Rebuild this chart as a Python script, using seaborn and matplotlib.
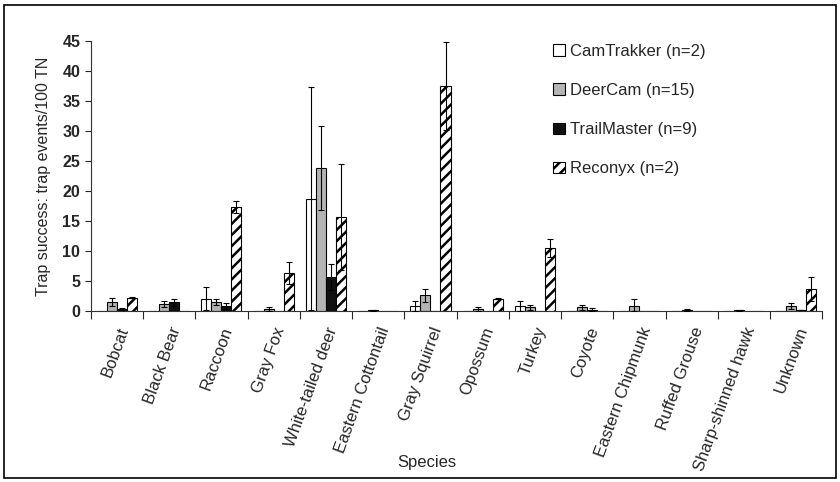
import numpy as np
import pandas as pd
import matplotlib
matplotlib.use("Agg")
import matplotlib.pyplot as plt
import seaborn as sns
from matplotlib.patches import Rectangle, Patch

species = ["Bobcat", "Black Bear", "Raccoon", "Gray Fox", "White-tailed deer",
           "Eastern Cottontail", "Gray Squirrel", "Opossum", "Turkey", "Coyote",
           "Eastern Chipmunk", "Ruffed Grouse", "Sharp-shinned hawk", "Unknown"]
cameras = ["CamTrakker (n=2)", "DeerCam (n=15)", "TrailMaster (n=9)", "Reconyx (n=2)"]

camtrakker = [0, 0, 2.0, 0, 18.7, 0, 0.8, 0, 0.8, 0, 0, 0, 0, 0]
camtrakker_err = [0, 0, 1.9, 0, 18.6, 0, 0.9, 0, 0.8, 0, 0, 0, 0, 0]
deercam = [1.5, 1.2, 1.5, 0.3, 23.9, 0.1, 2.6, 0.3, 0.6, 0.6, 0.8, 0.15, 0.08, 0.8]
deercam_err = [0.7, 0.5, 0.5, 0.3, 7.0, 0.05, 1.1, 0.3, 0.4, 0.4, 1.2, 0.1, 0.05, 0.5]
trailmaster = [0.3, 1.4, 0.8, 0, 5.7, 0, 0, 0, 0, 0.2, 0, 0, 0, 0.15]
trailmaster_err = [0.1, 0.6, 0.5, 0, 2.2, 0, 0, 0, 0, 0.2, 0, 0, 0, 0.05]
reconyx = [2.2, 0, 17.4, 6.3, 15.7, 0, 37.5, 2.0, 10.5, 0, 0, 0, 0, 3.6]
reconyx_err = [0.1, 0, 1.0, 1.8, 8.8, 0, 7.3, 0.1, 1.5, 0, 0, 0, 0, 2.0]

values = [camtrakker, deercam, trailmaster, reconyx]
errors = [camtrakker_err, deercam_err, trailmaster_err, reconyx_err]

rows = []
for cam, vals in zip(cameras, values):
    for sp, v in zip(species, vals):
        rows.append({"Species": sp, "Camera": cam, "Value": v})
df = pd.DataFrame(rows)

sns.set_style("ticks")
plt.rcParams["font.family"] = ["Liberation Sans", "DejaVu Sans"]
plt.rcParams["hatch.linewidth"] = 1.8

fig = plt.figure(figsize=(8.4, 4.82), dpi=100)
ax = fig.add_axes([0.108, 0.355, 0.871, 0.56])

facecolors = ["white", "#b4b4b4", "#111111", "white"]
hatches = [None, None, None, "///"]
palette = dict(zip(cameras, facecolors))

sns.barplot(data=df, x="Species", y="Value", hue="Camera", order=species,
            hue_order=cameras, palette=palette, width=0.77, gap=0,
            edgecolor="black", linewidth=0.8, errorbar=None, legend=False, ax=ax)

# style bars and draw error bars
bar_containers = list(ax.containers)
for ci, cont in enumerate(bar_containers):
    xs, hs = [], []
    for bar, v in zip(cont.patches, values[ci]):
        bar.set_facecolor(facecolors[ci])
        bar.set_edgecolor("black")
        if hatches[ci]:
            bar.set_hatch(hatches[ci])
        xs.append(bar.get_x() + bar.get_width() / 2)
        hs.append(v)
    errs = np.array(errors[ci])
    xs = np.array(xs); hs = np.array(hs)
    mask = errs > 0
    lower = np.minimum(errs, hs)
    ax.errorbar(xs[mask], hs[mask], yerr=[lower[mask], errs[mask]], fmt="none",
                ecolor="black", elinewidth=0.8, capsize=2.5, capthick=0.8, zorder=5)

ax.set_xlim(-0.5, len(species) - 0.5)
ax.set_ylim(0, 45)
ax.set_yticks(np.arange(0, 46, 5))
for lbl in ax.get_yticklabels():
    lbl.set_fontweight("bold")
ax.tick_params(axis="y", labelsize=11.5, length=4, width=0.8, direction="out")

ax.set_xticks(np.arange(len(species)))
ax.set_xticklabels(species, rotation=70, ha="right", rotation_mode="anchor", fontsize=12)
ax.tick_params(axis="x", which="major", length=0, pad=10)
ax.set_xticks(np.arange(-0.5, len(species), 1.0), minor=True)
ax.tick_params(axis="x", which="minor", length=6, width=0.8, direction="out")

ax.set_xlabel("Species", fontsize=12)
ax.xaxis.set_label_coords((427 - 91) / 731, -0.535)
ax.set_ylabel("Trap success: trap events/100 TN", fontsize=11.5, labelpad=8)

for s in ["top", "right"]:
    ax.spines[s].set_visible(False)
for s in ["left", "bottom"]:
    ax.spines[s].set_linewidth(0.8)
    ax.spines[s].set_color("#333333")

handles = [Patch(facecolor=fc, edgecolor="black", hatch=h, linewidth=0.8)
           for fc, h in zip(facecolors, hatches)]
fig.legend(handles, cameras, loc="upper left", bbox_to_anchor=(0.641, 0.94),
           frameon=False, fontsize=12, handlelength=0.7, handleheight=0.7,
           handletextpad=0.3, labelspacing=1.45)

fig.add_artist(Rectangle((0.005, 0.008), 0.99, 0.982, transform=fig.transFigure,
                         fill=False, edgecolor="black", linewidth=1.2))

fig.savefig("out.png", dpi=100, facecolor="white")
